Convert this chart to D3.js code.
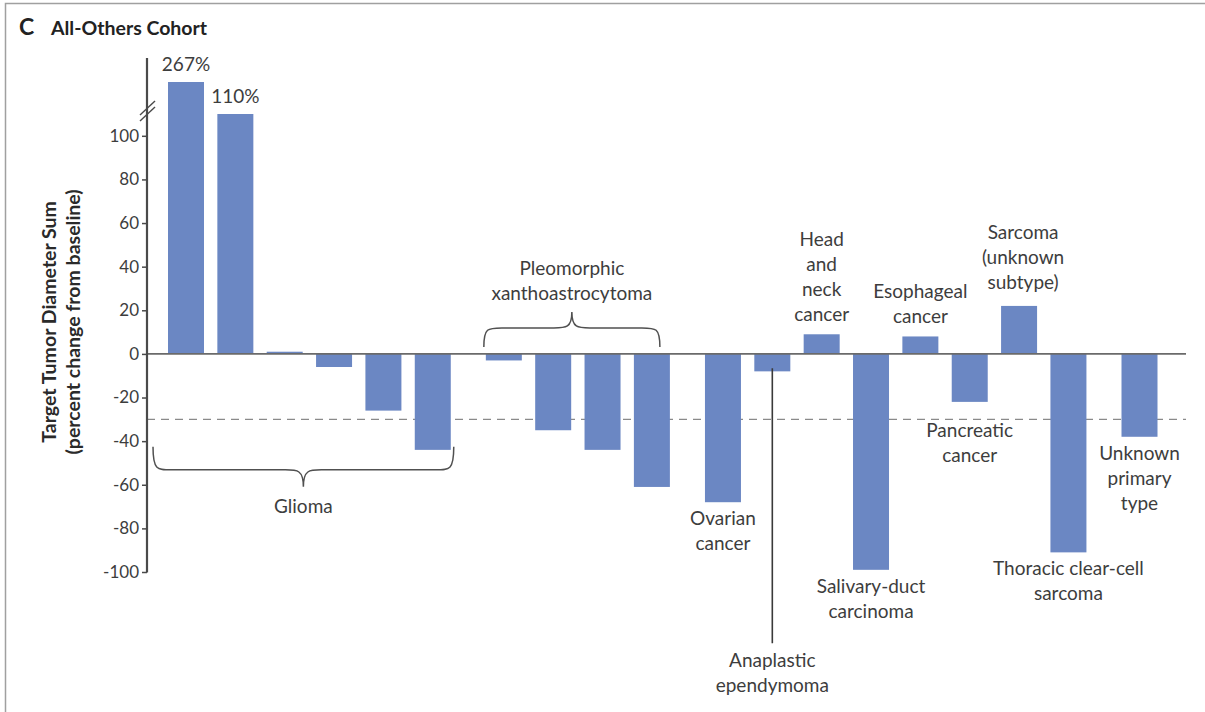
<!DOCTYPE html>
<html>
<head>
<meta charset="utf-8">
<script src="https://cdn.jsdelivr.net/npm/d3@7"></script>
<style>
  html, body { margin: 0; padding: 0; background: #fff; }
  svg { display: block; font-family: "Lato", "Open Sans", sans-serif; }
</style>
</head>
<body>
<svg id="chart" width="1205" height="712"></svg>
<script>
// Tumor type of each patient, in the order the bars are drawn
const tumorTypes = [
  "Glioma", "Glioma", "Glioma", "Glioma", "Glioma", "Glioma",
  "Pleomorphic xanthoastrocytoma", "Pleomorphic xanthoastrocytoma",
  "Pleomorphic xanthoastrocytoma", "Pleomorphic xanthoastrocytoma",
  "Ovarian cancer", "Anaplastic ependymoma", "Head and neck cancer",
  "Salivary-duct carcinoma", "Esophageal cancer", "Pancreatic cancer",
  "Sarcoma (unknown subtype)", "Thoracic clear-cell sarcoma", "Unknown primary type"
];
// Best percent change from baseline in the target tumor diameter sum
const percentChange = [267, 110, 1, -6, -26, -44, -3, -35, -44, -61, -68, -8, 9, -99, 8, -22, 22, -91, -38];
// Bars whose value is printed above them
const printedValues = [267, 110];
// Y-axis ticks
const yTicks = [-100, -80, -60, -40, -20, 0, 20, 40, 60, 80, 100];
// Partial-response threshold
const responseThreshold = -30;
// Label text for each tumor type, one entry per line
const typeLabelLines = {
  "Glioma": ["Glioma"],
  "Pleomorphic xanthoastrocytoma": ["Pleomorphic", "xanthoastrocytoma"],
  "Ovarian cancer": ["Ovarian", "cancer"],
  "Anaplastic ependymoma": ["Anaplastic", "ependymoma"],
  "Head and neck cancer": ["Head", "and", "neck", "cancer"],
  "Salivary-duct carcinoma": ["Salivary-duct", "carcinoma"],
  "Esophageal cancer": ["Esophageal", "cancer"],
  "Pancreatic cancer": ["Pancreatic", "cancer"],
  "Sarcoma (unknown subtype)": ["Sarcoma", "(unknown", "subtype)"],
  "Thoracic clear-cell sarcoma": ["Thoracic clear-cell", "sarcoma"],
  "Unknown primary type": ["Unknown", "primary", "type"]
};

// ---- layout ----
const TEXT = "#3d3d3d";
const AXIS = "#4a4a4a";
const BAR = "#6b87c3";
const FONT = 19;
const LINE = 25;

// Bars are grouped into blocks separated by a wider gap
const blockOf = t => t === "Glioma" ? 0
  : t === "Pleomorphic xanthoastrocytoma" ? 1
  : t === "Unknown primary type" ? 3 : 2;
const BLOCK_GAP = 0.44;
const slots = tumorTypes.map((t, i) => i + blockOf(t) * BLOCK_GAP);

const data = tumorTypes.map((t, i) => ({ type: t, value: percentChange[i], slot: slots[i], i }));

const svg = d3.select("#chart");

// frame
svg.append("path")
  .attr("d", "M5.5,712 V3.5 H1205")
  .attr("fill", "none").attr("stroke", "#a0a0a0").attr("stroke-width", 1.5);

// scales: axis is broken above 110 so the 267% bar fits
const x = d3.scaleLinear().domain([0, d3.max(slots)]).range([186, 1139.5]);
const y = d3.scaleLinear().domain([-100, 110, 267]).range([572, 114, 82]);
const barW = 36;
const axisX = 147;

// title
const title = svg.append("text").attr("x", 19).attr("y", 35).attr("fill", "#222");
title.append("tspan").attr("font-size", 23).attr("font-weight", 700).text("C");
title.append("tspan").attr("x", 51).attr("font-size", 19.5).attr("font-weight", 700).text("All-Others Cohort");

// y-axis title
const yTitle = svg.append("text")
  .attr("transform", `translate(0,${y(0) - 32}) rotate(-90)`)
  .attr("text-anchor", "middle").attr("font-weight", 700)
  .attr("font-size", 19.5).attr("fill", "#2a2a2a");
yTitle.append("tspan").attr("x", 0).attr("y", 56).text("Target Tumor Diameter Sum");
yTitle.append("tspan").attr("x", 0).attr("y", 80).text("(percent change from baseline)");

// threshold line
svg.append("line")
  .attr("x1", axisX).attr("x2", 1186)
  .attr("y1", y(responseThreshold)).attr("y2", y(responseThreshold))
  .attr("stroke", "#8a8a8a").attr("stroke-width", 1.4).attr("stroke-dasharray", "8,6");

// bars
svg.append("g").selectAll("rect").data(data).join("rect")
  .attr("x", d => x(d.slot) - barW / 2)
  .attr("width", barW)
  .attr("y", d => y(Math.max(0, d.value)))
  .attr("height", d => Math.abs(y(d.value) - y(0)))
  .attr("fill", BAR);

// zero line
svg.append("line")
  .attr("x1", axisX).attr("x2", 1186)
  .attr("y1", y(0)).attr("y2", y(0))
  .attr("stroke", "#6a6a6a").attr("stroke-width", 1.6);

// y axis
const yAxis = svg.append("g")
  .attr("transform", `translate(${axisX},0)`)
  .call(d3.axisLeft(y).tickValues(yTicks).tickSize(5).tickPadding(3).tickFormat(d => String(d)));
yAxis.select(".domain").remove();
yAxis.selectAll(".tick line").attr("stroke", AXIS).attr("stroke-width", 1.5);
yAxis.selectAll(".tick text")
  .attr("font-family", "Lato, sans-serif").attr("font-size", 17).attr("fill", TEXT);
svg.append("line")
  .attr("x1", axisX).attr("x2", axisX)
  .attr("y1", y(267) - 24).attr("y2", y(-100) + 0.5)
  .attr("stroke", AXIS).attr("stroke-width", 2.2);

// axis break marks
const by = y(110) - 3;
[-3, 3].forEach(o => {
  svg.append("line")
    .attr("x1", axisX - 7).attr("y1", by + o + 7)
    .attr("x2", axisX + 8).attr("y2", by + o - 7)
    .attr("stroke", AXIS).attr("stroke-width", 1.4);
});

// printed values above the cut-off bars
svg.append("g").selectAll("text")
  .data(data.filter(d => printedValues.includes(d.value))).join("text")
  .attr("x", d => x(d.slot))
  .attr("y", d => y(d.value) - 11)
  .attr("text-anchor", "middle").attr("font-size", FONT).attr("fill", TEXT)
  .text(d => d.value + "%");

// helpers for labels and braces
function multiline(lines, cx, firstBaseline) {
  const t = svg.append("text").attr("text-anchor", "middle")
    .attr("font-size", FONT).attr("fill", TEXT);
  lines.forEach((s, k) => t.append("tspan").attr("x", cx).attr("y", firstBaseline + k * LINE).text(s));
  return t;
}
function brace(x1, x2, y0, dir, depth, tip) {
  const y1 = y0 + dir * depth, yt = y0 + dir * tip, xm = (x1 + x2) / 2, r = 18;
  const p = d3.path();
  p.moveTo(x1, y0);
  p.bezierCurveTo(x1, y1, x1 + 4, y1, x1 + r, y1);
  p.lineTo(xm - r, y1);
  p.bezierCurveTo(xm - 6, y1, xm, y1, xm, yt);
  p.bezierCurveTo(xm, y1, xm + 6, y1, xm + r, y1);
  p.lineTo(x2 - r, y1);
  p.bezierCurveTo(x2 - 4, y1, x2, y1, x2, y0);
  svg.append("path").attr("d", p.toString())
    .attr("fill", "none").attr("stroke", "#505050").attr("stroke-width", 1.5);
}

const groups = d3.groups(data, d => d.type);
groups.forEach(([type, rows]) => {
  const lines = typeLabelLines[type];
  const first = rows[0], last = rows[rows.length - 1];
  const cx = (x(first.slot) + x(last.slot)) / 2;
  if (type === "Glioma") {
    const x1 = x(first.slot) - barW / 2 - 15, x2 = x(last.slot) + barW / 2 + 3;
    const y0 = y(d3.min(rows, d => d.value)) - 3;
    brace(x1, x2, y0, 1, 23, 40);
    multiline(lines, (x1 + x2) / 2, y0 + 66);
  } else if (type === "Pleomorphic xanthoastrocytoma") {
    const x1 = x(first.slot) - barW / 2 - 2, x2 = x(last.slot) + barW / 2 - 10;
    const y0 = y(0) - 7;
    brace(x1, x2, y0, -1, 19, 35);
    multiline(lines, (x1 + x2) / 2, y0 - 72);
  } else if (type === "Anaplastic ependymoma") {
    const labelY = y(first.value) + 296;
    svg.append("line")
      .attr("x1", cx).attr("x2", cx)
      .attr("y1", y(first.value) - 3).attr("y2", labelY - 24)
      .attr("stroke", "#3a3a3a").attr("stroke-width", 1.6);
    multiline(lines, cx, labelY);
  } else if (first.value > 0) {
    const extra = type.startsWith("Sarcoma") ? 4 : 0;
    multiline(lines, cx + (extra ? 4 : 0), y(first.value) - 13 - extra - (lines.length - 1) * LINE);
  } else {
    const gap = type === "Pancreatic cancer" ? 35 : 23;
    multiline(lines, cx, y(first.value) + gap);
  }
});
</script>
</body>
</html>
